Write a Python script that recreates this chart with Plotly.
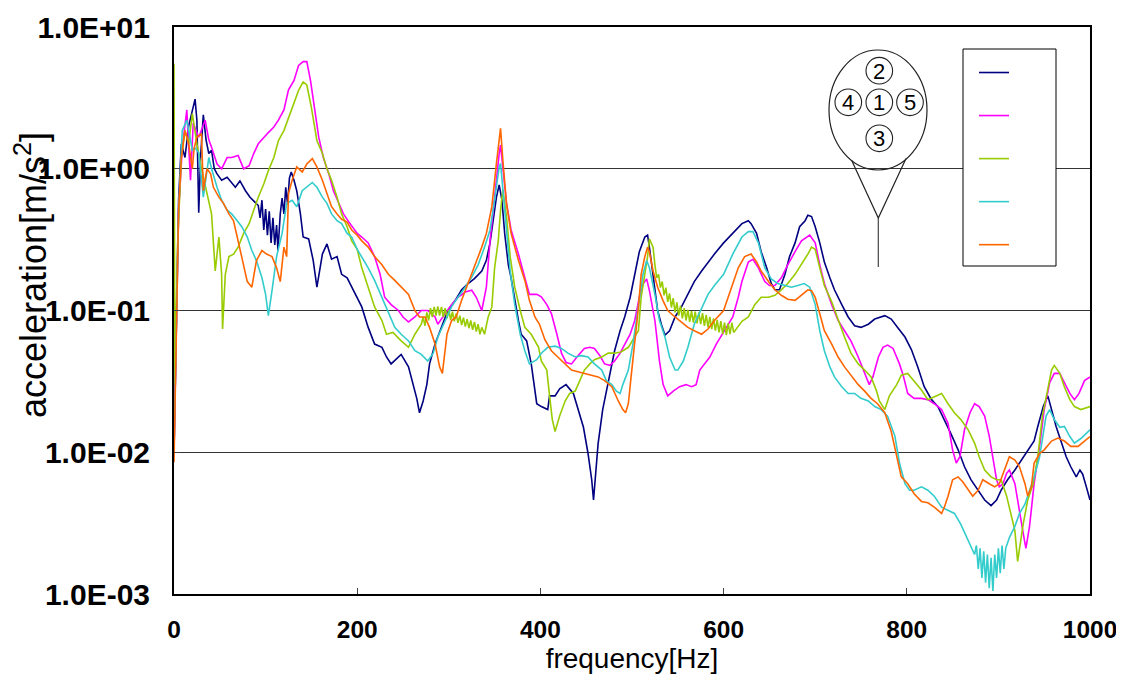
import plotly.graph_objects as go

# ---------------- data (frequency [Hz], acceleration [m/s^2]) ----------------
f1 = [0, 2, 5, 8, 12, 16, 20, 23, 25, 27, 29, 32, 35, 38, 41, 44, 47, 52, 58, 63, 67, 72, 78, 83, 89, 92, 94, 96, 98, 100, 102, 104, 106, 108, 110, 112, 113.5, 116, 118, 120, 122, 124, 126, 128, 131, 134, 138, 141, 147, 152, 156, 162, 167, 172, 178, 183, 189, 194, 200, 205, 212, 219, 227, 232, 237, 243, 248, 256, 261, 265, 268, 272, 276, 279, 285, 292, 299, 307, 314, 321, 328, 336, 341, 345, 348, 352, 355, 358, 361, 365, 368, 372, 376, 379, 385, 390, 396, 401, 408, 410, 416, 421, 428, 436, 441, 447, 452, 456, 458, 460, 463, 468, 474, 481, 487, 492, 498, 503, 508, 514, 517, 519, 523, 528, 532, 536, 541, 547, 554, 561, 568, 576, 583, 590, 600, 610, 620, 627, 630, 636, 641, 647, 652, 656, 661, 667, 672, 678, 683, 689, 692, 696, 700, 705, 710, 716, 721, 729, 736, 743, 750, 758, 765, 776, 783, 790, 798, 805, 812, 819, 827, 834, 841, 848, 856, 863, 870, 878, 885, 892, 898, 903, 910, 918, 925, 932, 939, 943, 949, 954, 958, 963, 969, 974, 979, 985, 989, 992, 996, 1000]
a1 = [0.01, 0.05, 0.6, 1.5, 1.2, 2.0, 2.6, 3.1, 2.2, 0.49, 1.2, 2.4, 1.6, 1.28, 1.35, 1.0, 0.92, 0.83, 0.87, 0.8, 0.74, 0.82, 0.70, 0.63, 0.57, 0.55, 0.45, 0.6, 0.37, 0.52, 0.34, 0.5, 0.3, 0.45, 0.29, 0.4, 0.265, 0.48, 0.62, 0.48, 0.74, 0.56, 0.86, 0.95, 0.83, 0.7, 0.48, 0.33, 0.32, 0.225, 0.146, 0.25, 0.295, 0.23, 0.24, 0.18, 0.17, 0.146, 0.125, 0.106, 0.076, 0.058, 0.055, 0.047, 0.042, 0.046, 0.049, 0.040, 0.030, 0.024, 0.019, 0.023, 0.030, 0.042, 0.058, 0.076, 0.1, 0.118, 0.14, 0.155, 0.168, 0.19, 0.226, 0.30, 0.43, 0.63, 0.77, 0.6, 0.35, 0.21, 0.17, 0.118, 0.085, 0.068, 0.061, 0.042, 0.022, 0.021, 0.02, 0.025, 0.025, 0.028, 0.03, 0.026, 0.02, 0.015, 0.0098, 0.0064, 0.0046, 0.0064, 0.0115, 0.02, 0.032, 0.052, 0.072, 0.09, 0.124, 0.18, 0.26, 0.33, 0.34, 0.28, 0.18, 0.1, 0.08, 0.067, 0.072, 0.09, 0.106, 0.13, 0.16, 0.19, 0.22, 0.25, 0.3, 0.35, 0.41, 0.43, 0.41, 0.35, 0.26, 0.2, 0.155, 0.14, 0.14, 0.18, 0.24, 0.3, 0.39, 0.43, 0.47, 0.46, 0.39, 0.3, 0.22, 0.17, 0.14, 0.11, 0.09, 0.078, 0.076, 0.08, 0.087, 0.092, 0.087, 0.076, 0.065, 0.053, 0.040, 0.029, 0.0235, 0.021, 0.017, 0.0136, 0.0104, 0.0079, 0.0064, 0.0054, 0.0046, 0.0042, 0.0046, 0.0054, 0.0064, 0.0075, 0.0088, 0.0104, 0.012, 0.0152, 0.021, 0.025, 0.02, 0.0152, 0.0116, 0.0093, 0.0079, 0.0067, 0.0075, 0.007, 0.0057, 0.0046]

f2 = [0, 2, 5, 9, 14, 18, 21, 27, 34, 38, 41, 47, 52, 58, 63, 70, 76, 82, 87, 92, 98, 103, 109, 114, 120, 125, 131, 136, 141, 145, 149, 152, 158, 163, 169, 174, 180, 185, 191, 200, 205, 212, 219, 225, 230, 237, 245, 250, 256, 263, 270, 277, 285, 288, 296, 303, 310, 318, 325, 330, 336, 341, 345, 350, 355, 356.5, 359, 363, 368, 376, 383, 388, 396, 401, 407, 412, 418, 423, 428, 434, 441, 448, 454, 459, 465, 470, 476, 481, 487, 492, 498, 503, 508, 512, 516, 519, 525, 530, 534, 539, 545, 552, 559, 565, 570, 574, 579, 585, 592, 600, 610, 616, 620, 627, 632, 638, 645, 650, 656, 663, 670, 678, 685, 694, 700, 705, 710, 718, 725, 732, 739, 747, 754, 759, 763, 769, 774, 779, 785, 792, 796, 801, 808, 816, 823, 830, 838, 845, 850, 854, 858, 863, 869, 874, 879, 885, 890, 894, 898, 901, 905, 909, 912, 918, 923, 927, 930, 934, 939, 945, 950, 956, 961, 967, 972, 978, 983, 988, 994, 1000]
a2 = [0.01, 0.06, 0.5, 1.4, 2.6, 0.83, 2.1, 1.67, 2.2, 1.6, 1.42, 1.08, 1.0, 1.2, 1.2, 1.24, 1.0, 1.05, 1.28, 1.5, 1.67, 1.8, 1.97, 2.2, 2.6, 3.6, 4.2, 5.35, 5.7, 5.7, 4.2, 3.0, 1.67, 1.2, 0.92, 0.70, 0.57, 0.48, 0.42, 0.35, 0.33, 0.30, 0.24, 0.18, 0.124, 0.11, 0.1, 0.09, 0.083, 0.09, 0.1, 0.1, 0.09, 0.08, 0.095, 0.11, 0.124, 0.135, 0.139, 0.124, 0.1, 0.146, 0.31, 0.67, 1.28, 1.47, 1.03, 0.57, 0.37, 0.25, 0.17, 0.13, 0.13, 0.125, 0.11, 0.095, 0.068, 0.05, 0.043, 0.042, 0.048, 0.054, 0.055, 0.054, 0.048, 0.042, 0.041, 0.044, 0.05, 0.058, 0.068, 0.085, 0.124, 0.154, 0.167, 0.138, 0.085, 0.044, 0.03, 0.025, 0.027, 0.029, 0.03, 0.029, 0.03, 0.038, 0.042, 0.047, 0.058, 0.07, 0.09, 0.124, 0.16, 0.22, 0.23, 0.2, 0.16, 0.15, 0.15, 0.17, 0.21, 0.26, 0.31, 0.34, 0.3, 0.21, 0.155, 0.11, 0.085, 0.072, 0.061, 0.047, 0.036, 0.030, 0.034, 0.047, 0.055, 0.057, 0.054, 0.042, 0.035, 0.026, 0.024, 0.024, 0.0235, 0.022, 0.02, 0.016, 0.0104, 0.0084, 0.0093, 0.0144, 0.019, 0.022, 0.021, 0.018, 0.013, 0.0093, 0.0064, 0.0057, 0.006, 0.0071, 0.0075, 0.006, 0.0037, 0.0027, 0.0021, 0.003, 0.006, 0.011, 0.02, 0.031, 0.036, 0.036, 0.031, 0.026, 0.0235, 0.026, 0.032, 0.034]

f3 = [0, 1, 4, 8, 12, 16, 20, 25, 30, 36, 41, 45, 49, 52, 53, 56, 60, 65, 70, 76, 82, 87, 92, 98, 103, 109, 114, 120, 125, 131, 136, 141, 145, 150, 156, 162, 167, 172, 178, 183, 189, 194, 200, 205, 212, 219, 227, 232, 239, 248, 256, 263, 270, 272, 274, 276, 278, 280, 282, 284, 286, 288, 290, 292, 294, 296, 298, 300, 302, 304, 306, 308, 310, 312, 314, 316, 318, 320, 322, 324, 326, 328, 330, 332, 334, 336, 339, 343, 347, 350, 354, 356.5, 359, 363, 367, 372, 378, 383, 390, 398, 401, 407, 410, 413, 416, 421, 427, 432, 438, 443, 448, 454, 459, 467, 474, 481, 488, 496, 501, 507, 510, 514, 517, 519, 523, 525, 527, 529, 531, 533, 535, 537, 539, 541, 543, 545, 547, 549, 551, 553, 555, 557, 559, 561, 563, 565, 567, 569, 571, 573, 575, 577, 579, 581, 583, 585, 587, 589, 591, 593, 595, 597, 599, 601, 603, 605, 607, 609, 611, 620, 627, 634, 641, 649, 656, 663, 670, 678, 685, 692, 696, 700, 705, 710, 718, 725, 732, 739, 747, 754, 761, 767, 770, 776, 781, 789, 794, 801, 808, 816, 823, 830, 838, 845, 852, 859, 867, 874, 879, 885, 892, 898, 903, 909, 914, 918, 921, 927, 932, 938, 943, 948, 954, 958, 961, 967, 972, 978, 983, 990, 1000]
a3 = [5.5, 0.03, 0.3, 1.2, 1.86, 1.5, 2.45, 1.5, 1.0, 0.67, 0.48, 0.19, 0.33, 0.18, 0.074, 0.18, 0.24, 0.25, 0.28, 0.35, 0.41, 0.51, 0.63, 0.78, 0.97, 1.2, 1.58, 1.86, 2.3, 2.9, 3.57, 4.1, 3.9, 2.7, 1.58, 1.28, 1.0, 0.83, 0.63, 0.48, 0.39, 0.31, 0.27, 0.2, 0.146, 0.106, 0.085, 0.068, 0.07, 0.061, 0.055, 0.068, 0.08, 0.09, 0.078, 0.097, 0.085, 0.104, 0.09, 0.106, 0.092, 0.107, 0.092, 0.106, 0.09, 0.104, 0.088, 0.101, 0.086, 0.098, 0.084, 0.095, 0.082, 0.092, 0.079, 0.089, 0.077, 0.087, 0.075, 0.085, 0.073, 0.083, 0.071, 0.08, 0.068, 0.076, 0.068, 0.09, 0.106, 0.2, 0.31, 0.51, 0.71, 0.46, 0.24, 0.146, 0.1, 0.076, 0.068, 0.055, 0.044, 0.038, 0.025, 0.017, 0.014, 0.018, 0.023, 0.026, 0.027, 0.032, 0.038, 0.042, 0.045, 0.047, 0.05, 0.05, 0.051, 0.055, 0.062, 0.072, 0.124, 0.18, 0.24, 0.32, 0.28, 0.21, 0.17, 0.18, 0.145, 0.16, 0.128, 0.145, 0.115, 0.132, 0.105, 0.122, 0.097, 0.114, 0.092, 0.108, 0.088, 0.104, 0.085, 0.101, 0.083, 0.099, 0.082, 0.098, 0.081, 0.097, 0.08, 0.096, 0.078, 0.093, 0.076, 0.09, 0.074, 0.088, 0.072, 0.086, 0.07, 0.084, 0.068, 0.082, 0.067, 0.081, 0.068, 0.082, 0.07, 0.084, 0.09, 0.11, 0.124, 0.124, 0.128, 0.14, 0.155, 0.18, 0.21, 0.25, 0.28, 0.27, 0.2, 0.15, 0.115, 0.085, 0.065, 0.05, 0.042, 0.038, 0.034, 0.027, 0.023, 0.02, 0.025, 0.03, 0.035, 0.036, 0.032, 0.0275, 0.0235, 0.0247, 0.026, 0.022, 0.019, 0.017, 0.0144, 0.0116, 0.0093, 0.0075, 0.0067, 0.0064, 0.0064, 0.0049, 0.0035, 0.0028, 0.0017, 0.0031, 0.0046, 0.006, 0.0093, 0.018, 0.028, 0.038, 0.041, 0.036, 0.029, 0.0235, 0.021, 0.02, 0.021, 0.0215]

f4 = [0, 2, 5, 9, 14, 20, 23, 27, 32, 38, 41, 47, 52, 58, 63, 69, 74, 80, 85, 90, 96, 100, 103, 107, 112, 118, 123, 129, 134, 140, 145, 151, 156, 162, 167, 172, 178, 183, 189, 194, 200, 205, 212, 219, 227, 234, 241, 248, 256, 263, 270, 277, 283, 288, 296, 303, 310, 318, 325, 332, 339, 345, 350, 355, 356.5, 359, 363, 367, 372, 378, 383, 388, 396, 401, 408, 416, 423, 430, 438, 445, 452, 459, 467, 472, 478, 483, 487, 490, 496, 501, 507, 512, 516, 519, 525, 530, 536, 541, 547, 550, 556, 561, 568, 576, 583, 590, 600, 610, 620, 627, 632, 638, 645, 652, 659, 667, 674, 681, 688, 694, 700, 705, 710, 716, 721, 729, 736, 743, 750, 758, 765, 772, 779, 787, 792, 798, 803, 808, 816, 823, 830, 838, 845, 852, 859, 867, 874, 876, 878, 880, 882, 884, 886, 888, 890, 892, 894, 896, 898, 900, 902, 904, 906, 908, 912, 918, 923, 929, 934, 939, 945, 949, 952, 956, 961, 967, 972, 978, 983, 990, 1000]
a4 = [0.01, 0.05, 0.5, 1.86, 2.2, 1.35, 1.4, 1.3, 0.63, 1.2, 1.0, 0.74, 0.6, 0.51, 0.48, 0.43, 0.39, 0.33, 0.265, 0.225, 0.17, 0.13, 0.092, 0.138, 0.24, 0.35, 0.57, 0.6, 0.54, 0.70, 0.74, 0.80, 0.74, 0.63, 0.57, 0.48, 0.43, 0.41, 0.35, 0.33, 0.27, 0.24, 0.2, 0.163, 0.124, 0.095, 0.076, 0.068, 0.061, 0.052, 0.049, 0.044, 0.05, 0.065, 0.085, 0.106, 0.124, 0.146, 0.172, 0.21, 0.28, 0.37, 0.6, 1.03, 1.09, 0.75, 0.37, 0.19, 0.11, 0.068, 0.052, 0.042, 0.045, 0.05, 0.055, 0.056, 0.054, 0.05, 0.047, 0.048, 0.047, 0.042, 0.038, 0.032, 0.03, 0.027, 0.026, 0.03, 0.038, 0.058, 0.11, 0.18, 0.225, 0.2, 0.13, 0.085, 0.065, 0.047, 0.038, 0.038, 0.044, 0.055, 0.08, 0.105, 0.13, 0.15, 0.18, 0.25, 0.33, 0.36, 0.36, 0.3, 0.2, 0.167, 0.155, 0.15, 0.146, 0.15, 0.155, 0.146, 0.11, 0.072, 0.052, 0.04, 0.034, 0.029, 0.026, 0.026, 0.024, 0.023, 0.021, 0.020, 0.018, 0.013, 0.0084, 0.006, 0.0054, 0.0054, 0.0057, 0.0054, 0.0049, 0.0041, 0.0039, 0.0037, 0.0031, 0.0024, 0.0019, 0.0022, 0.0015, 0.0021, 0.0013, 0.002, 0.0012, 0.0019, 0.0011, 0.0018, 0.00105, 0.0019, 0.0013, 0.0021, 0.0014, 0.0022, 0.0015, 0.0021, 0.0025, 0.003, 0.0037, 0.0043, 0.0054, 0.0067, 0.0093, 0.0136, 0.018, 0.02, 0.017, 0.015, 0.0152, 0.0129, 0.0116, 0.0125, 0.0144]

f5 = [0, 2, 5, 8, 12, 16, 20, 22, 25, 30, 32, 36, 40, 43, 49, 54, 60, 65, 70, 76, 80, 85, 90, 96, 101, 107, 112, 116, 120, 123, 125, 129, 134, 140, 145, 151, 156, 162, 167, 172, 178, 183, 189, 194, 200, 205, 212, 219, 227, 234, 241, 248, 256, 263, 268, 274, 279, 285, 290, 293, 298, 303, 308, 314, 321, 328, 336, 341, 347, 352, 355, 356.5, 359, 363, 368, 376, 383, 388, 394, 399, 405, 412, 419, 427, 434, 441, 448, 456, 463, 470, 478, 485, 490, 493, 496, 499, 503, 507, 510, 514, 517, 519, 523, 528, 534, 539, 547, 554, 561, 568, 576, 583, 590, 600, 605, 610, 616, 623, 630, 636, 641, 649, 656, 663, 670, 678, 685, 692, 696, 700, 705, 710, 718, 725, 732, 739, 747, 754, 761, 768, 776, 783, 789, 794, 801, 808, 816, 823, 830, 838, 841, 845, 850, 856, 861, 867, 872, 878, 883, 890, 896, 901, 907, 912, 918, 923, 929, 932, 936, 939, 945, 950, 958, 965, 972, 979, 987, 994, 1000]
a5 = [0.0085, 0.05, 0.5, 1.2, 1.86, 1.5, 1.0, 1.4, 1.67, 1.77, 0.70, 1.0, 0.92, 0.74, 0.63, 0.57, 0.48, 0.43, 0.31, 0.2, 0.16, 0.146, 0.225, 0.265, 0.25, 0.24, 0.2, 0.16, 0.28, 0.24, 0.67, 0.83, 1.03, 0.95, 1.08, 1.18, 1.03, 0.83, 0.67, 0.54, 0.48, 0.44, 0.42, 0.37, 0.34, 0.31, 0.28, 0.24, 0.21, 0.18, 0.163, 0.146, 0.13, 0.1, 0.09, 0.09, 0.076, 0.058, 0.04, 0.036, 0.068, 0.085, 0.09, 0.118, 0.155, 0.2, 0.28, 0.35, 0.54, 1.09, 1.68, 1.93, 1.15, 0.57, 0.35, 0.226, 0.163, 0.118, 0.09, 0.08, 0.062, 0.052, 0.047, 0.042, 0.038, 0.037, 0.036, 0.035, 0.034, 0.032, 0.029, 0.023, 0.02, 0.019, 0.022, 0.034, 0.058, 0.105, 0.18, 0.24, 0.28, 0.26, 0.19, 0.146, 0.117, 0.1, 0.09, 0.083, 0.076, 0.072, 0.068, 0.074, 0.085, 0.1, 0.124, 0.155, 0.2, 0.24, 0.25, 0.22, 0.19, 0.16, 0.14, 0.128, 0.12, 0.118, 0.128, 0.14, 0.138, 0.124, 0.095, 0.072, 0.058, 0.047, 0.04, 0.035, 0.030, 0.027, 0.024, 0.022, 0.019, 0.014, 0.0095, 0.0067, 0.006, 0.0051, 0.0045, 0.0044, 0.0041, 0.0037, 0.0041, 0.0049, 0.0064, 0.0067, 0.0062, 0.0054, 0.0049, 0.0054, 0.0064, 0.006, 0.0057, 0.006, 0.0075, 0.0093, 0.0088, 0.0079, 0.006, 0.0049, 0.0057, 0.0084, 0.0098, 0.0104, 0.012, 0.0126, 0.012, 0.011, 0.011, 0.012, 0.0129]

series_freq = [f1, f2, f3, f4, f5]
series_acc = [a1, a2, a3, a4, a5]
series_names = ["\u00a0"] * 5
series_colors = ["#000080", "#FF00FF", "#99CC00", "#33CCCC", "#FF6600"]

y_tickvals = [0.001, 0.01, 0.1, 1, 10]
y_ticktext = ["1.0E-03", "1.0E-02", "1.0E-01", "1.0E+00", "1.0E+01"]
x_tickvals = [0, 200, 400, 600, 800, 1000]
inset_labels = ["1", "2", "3", "4", "5"]
x_title = "frequency[Hz]"
y_title = "acceleration[m/s<sup>2</sup>]"

# ---------------- figure ----------------
# page has an 8px body margin: the figure is sized to fit the 1124x686 window
W, H = 1108, 670
PL, PR, PT, PB = 174, 1090, 27, 594        # plot area in page pixels
OFF = 8
L, T = PL - OFF, PT - OFF
R = W - (PL - OFF) - (PR - PL)
B = H - (PT - OFF) - (PB - PT)

def px(x):
    return (x - PL) / (PR - PL)

def py(y):
    return (PB - y) / (PB - PT)

ARIAL = "Liberation Sans, Arial, sans-serif"

fig = go.Figure()
for fr, ac, nm, col in zip(series_freq, series_acc, series_names, series_colors):
    fig.add_trace(go.Scatter(x=fr, y=ac, mode="lines", name=nm,
                             line=dict(color=col, width=1.6)))

shapes = []
# legend frame (white, above the grid)
shapes.append(dict(type="rect", xref="paper", yref="paper", layer="above",
                   x0=px(963), x1=px(1056), y0=py(266), y1=py(49),
                   line=dict(color="black", width=1), fillcolor="white"))
# inset sketch: big ellipse, cone and stem
shapes.append(dict(type="circle", xref="paper", yref="paper",
                   x0=px(829), x1=px(927), y0=py(170), y1=py(50),
                   line=dict(color="#222", width=1.2), fillcolor="rgba(0,0,0,0)"))
shapes.append(dict(type="path", xref="paper", yref="paper",
                   path=f"M {px(851.5)},{py(160)} L {px(878.3)},{py(218)} L {px(906)},{py(158.5)}",
                   line=dict(color="#222", width=1.2)))
shapes.append(dict(type="line", xref="paper", yref="paper",
                   x0=px(878.3), x1=px(878.3), y0=py(218), y1=py(267),
                   line=dict(color="#444", width=1.2)))
centers = {"1": (879.3, 102.3), "2": (879.3, 70.7), "3": (879.3, 138.3),
           "4": (848.3, 102.3), "5": (910.0, 102.3)}
r = 13.3
annotations = []
for lab in inset_labels:
    cx, cy = centers[lab]
    shapes.append(dict(type="circle", xref="paper", yref="paper",
                       x0=px(cx - r), x1=px(cx + r), y0=py(cy + r), y1=py(cy - r),
                       line=dict(color="#222", width=1.1)))
    annotations.append(dict(x=px(cx), y=py(cy + 0.5), xref="paper", yref="paper",
                            text=lab, showarrow=False,
                            font=dict(family=ARIAL, size=22, color="black"),
                            xanchor="center", yanchor="middle"))
# y-axis title (placed like the reference: above the plot centre)
annotations.append(dict(x=px(31), y=py(275), xref="paper", yref="paper",
                        text=y_title, showarrow=False, textangle=-90,
                        font=dict(family=ARIAL, size=36, color="black"),
                        xanchor="center", yanchor="middle"))

fig.update_layout(
    width=W, height=H,
    margin=dict(l=L, r=R, t=T, b=B, autoexpand=False),
    paper_bgcolor="white", plot_bgcolor="white",
    showlegend=True,
    legend=dict(x=px(974), y=py(46), xanchor="left", yanchor="top",
                bgcolor="rgba(0,0,0,0)", borderwidth=0,
                font=dict(family=ARIAL, size=30.8, color="black"),
                itemwidth=30, tracegroupgap=0),
    shapes=shapes,
    annotations=annotations,
    xaxis=dict(range=[0, 1000], tickvals=x_tickvals, ticks="inside", ticklen=6,
               tickcolor="#444", showgrid=False, zeroline=False,
               showline=True, linecolor="black", linewidth=2, mirror=True,
               tickfont=dict(family=ARIAL, size=24.5, color="black", weight="bold"),
               ticklabelstandoff=13, ticklabeloverflow="allow",
               title=dict(text=x_title, standoff=6,
                          font=dict(family=ARIAL, size=28, color="black"))),
    yaxis=dict(type="log", range=[-3, 1], tickvals=y_tickvals, ticktext=y_ticktext,
               ticks="inside", ticklen=6, tickcolor="#444",
               showgrid=True, gridcolor="#333", gridwidth=1, zeroline=False,
               showline=True, linecolor="black", linewidth=2, mirror=True,
               tickfont=dict(family=ARIAL, size=30, color="black", weight="bold"),
               ticklabelstandoff=16),
)

fig.write_html("out.html")
